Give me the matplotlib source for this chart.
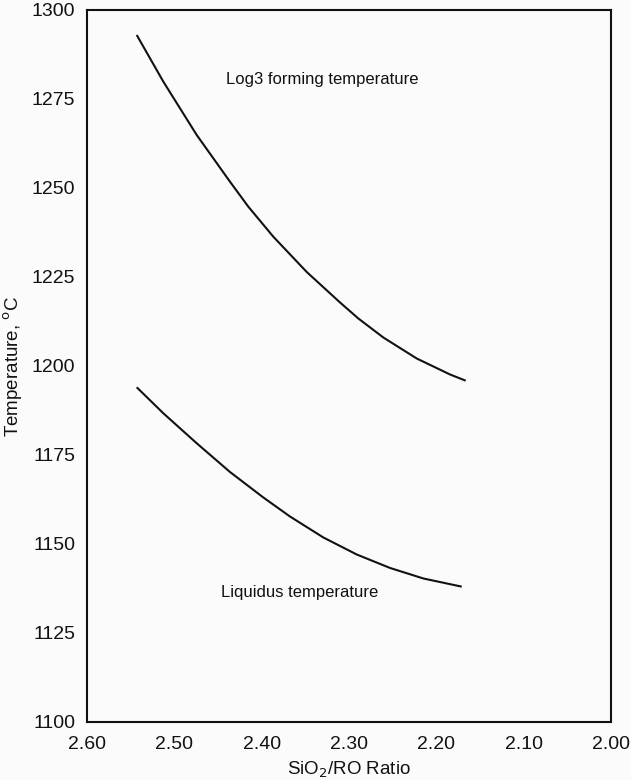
import numpy as np
import matplotlib
matplotlib.use("Agg")
import matplotlib.pyplot as plt

plt.rcParams['font.family'] = ['Liberation Sans', 'DejaVu Sans']

# SiO2/RO ratio vs temperature
log3_ratio = [2.5431, 2.5126, 2.4744, 2.4363, 2.4153, 2.3867, 2.3484, 2.3103,
              2.2893, 2.2607, 2.2225, 2.1843, 2.1664]
log3_temp = [1292.98, 1279.86, 1264.89, 1251.77, 1244.75, 1236.32, 1226.40, 1217.84,
             1213.34, 1208.00, 1202.11, 1197.61, 1195.87]

liq_ratio = [2.5431, 2.5126, 2.4744, 2.4363, 2.3981, 2.3676, 2.3294, 2.2912,
             2.2530, 2.2149, 2.1709]
liquidus_temp = [1194.02, 1186.71, 1178.29, 1170.22, 1163.06, 1157.72, 1151.83, 1147.05,
                 1143.26, 1140.31, 1138.01]

x_ticks = [2.60, 2.50, 2.40, 2.30, 2.20, 2.10, 2.00]
y_ticks = [1100, 1125, 1150, 1175, 1200, 1225, 1250, 1275, 1300]

bg = '#fbfbfb'
ink = '#111111'
fig = plt.figure(figsize=(6.31, 7.80), dpi=100, facecolor=bg)
ax = fig.add_axes([0.1379, 0.0744, 0.9683 - 0.1379, 0.9872 - 0.0744])
ax.set_facecolor(bg)

ax.plot(log3_ratio, log3_temp, color=ink, lw=1.5, solid_capstyle='butt', solid_joinstyle='round')
ax.plot(liq_ratio, liquidus_temp, color=ink, lw=1.5, solid_capstyle='butt', solid_joinstyle='round')

ax.text(2.331, 1280.6, 'Log3 forming temperature', ha='center', va='center',
        fontsize=12, color=ink)
ax.text(2.356, 1136.3, 'Liquidus temperature', ha='center', va='center',
        fontsize=12, color=ink)

ax.set_xlim(2.60, 2.00)
ax.set_ylim(1100, 1300)
ax.set_xticks(x_ticks)
ax.set_xticklabels(['%.2f' % v for v in x_ticks])
ax.set_yticks(y_ticks)
ax.tick_params(axis='both', length=0, labelsize=14, colors=ink)
ax.tick_params(axis='x', pad=10)
ax.tick_params(axis='y', pad=8.5)

for s in ax.spines.values():
    s.set_linewidth(1.5)
    s.set_color(ink)

ax.set_xlabel('SiO$_2$/RO Ratio', fontsize=13.5, color=ink, labelpad=5)
ax.set_ylabel('Temperature, $^{\\mathrm{o}}$C', fontsize=13.5, color=ink, labelpad=5)

fig.savefig('out.png', dpi=100, facecolor=bg)
